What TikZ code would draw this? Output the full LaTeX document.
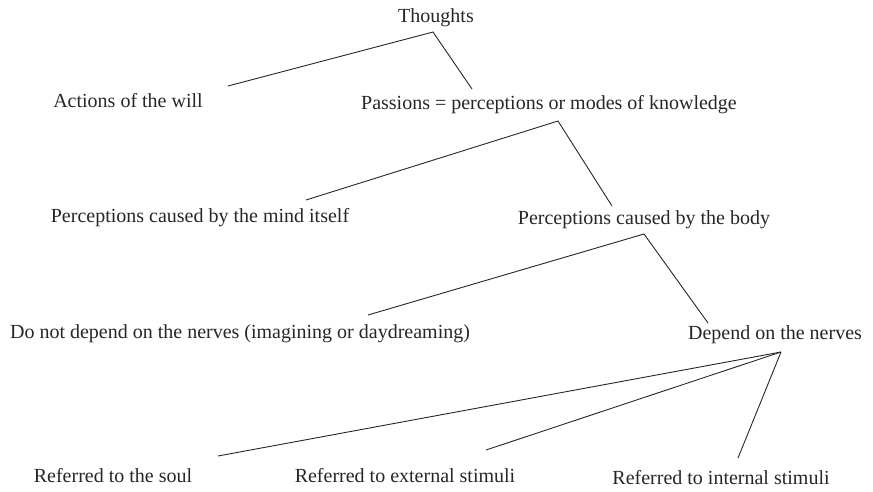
\documentclass[tikz,border=0pt]{standalone}
\usepackage{fontspec}
\setmainfont{Liberation Serif}
\begin{document}
\begin{tikzpicture}[x=1pt,y=-1pt,
  lbl/.style={anchor=base,inner sep=0pt,font=\fontsize{20}{22}\selectfont,text=black!85},
  link/.style={draw=black!85,line width=0.9pt}]
\useasboundingbox (0,0) rectangle (873,491);
\node[lbl] (thoughts) at (436,22) {Thoughts};
\node[lbl] (actions) at (128,107) {Actions of the will};
\node[lbl] (passions) at (549,109) {Passions = perceptions or modes of knowledge};
\node[lbl] (mind) at (200,222) {Perceptions caused by the mind itself};
\node[lbl] (body) at (644,224) {Perceptions caused by the body};
\node[lbl] (notnerves) at (240,338) {Do not depend on the nerves (imagining or daydreaming)};
\node[lbl] (nerves) at (775,339) {Depend on the nerves};
\node[lbl] (soul) at (113,482) {Referred to the soul};
\node[lbl] (external) at (405,482) {Referred to external stimuli};
\node[lbl] (internal) at (721,484) {Referred to internal stimuli};
% attachment points
\coordinate (thoughtsA) at (433,32);
\coordinate (actionsA) at (228,86);
\coordinate (passionsT) at (472,89);
\coordinate (passionsA) at (558,121);
\coordinate (mindA) at (306,200);
\coordinate (bodyT) at (612,206);
\coordinate (bodyA) at (644,234);
\coordinate (notnervesA) at (368,315);
\coordinate (nervesT) at (708,323);
\coordinate (nervesA) at (781,352);
\coordinate (soulA) at (218,456);
\coordinate (externalA) at (486,450);
\coordinate (internalA) at (738,458);
\draw[link] (actionsA) -- (thoughtsA) -- (passionsT);
\draw[link] (mindA) -- (passionsA) -- (bodyT);
\draw[link] (notnervesA) -- (bodyA) -- (nervesT);
\draw[link] (soulA) -- (nervesA);
\draw[link] (externalA) -- (nervesA);
\draw[link] (internalA) -- (nervesA);
\end{tikzpicture}
\end{document}
